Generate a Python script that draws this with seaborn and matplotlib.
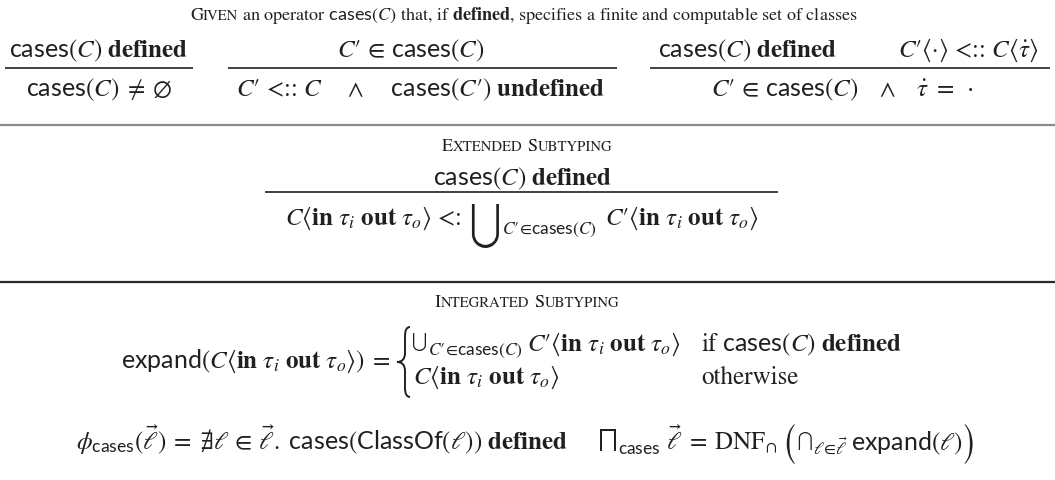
import matplotlib
matplotlib.use("Agg")
import matplotlib.pyplot as plt
import seaborn as sns
from matplotlib.textpath import TextPath
from matplotlib.patches import PathPatch
from matplotlib.path import Path
from matplotlib.font_manager import FontProperties
from matplotlib.transforms import Affine2D

# ---------------- content ----------------
title_parts = ["G", "IVEN",
               r"an operator $\mathsf{cases}(C)$ that, if $\mathbf{defined}$, specifies a finite and computable set of classes"]
rule1_premise = r"$\mathsf{cases}(C)\ \mathbf{defined}$"
rule1_concl = r"$\mathsf{cases}(C)\;\neq\;\emptyset$"
rule2_premise = r"$C′\,\in\,\mathsf{cases}(C)$"
rule2_concl = r"$C′$ <:: $C$$\quad\ \wedge\quad\ $$\mathsf{cases}(C′)\ \mathbf{undefined}$"
rule3_premises = [r"$\mathsf{cases}(C)\ \mathbf{defined}$",
                  r"$C′\langle$·$\rangle$ <:: $C\langle\dot{\tau}\rangle$"]
rule3_concl = r"$C′\,\in\,\mathsf{cases}(C)\quad\wedge\quad\dot{\tau}\ =\ \cdot$"
heading_ext = [("E", "XTENDED"), ("S", "UBTYPING")]
heading_int = [("I", "NTEGRATED"), ("S", "UBTYPING")]
ext_premise = r"$\mathsf{cases}(C)\ \mathbf{defined}$"
ext_left = r"$C\langle\mathbf{in}\ \tau_i\ \mathbf{out}\ \tau_o\rangle$ <:"
ext_sub = r"$C′\!\in\!\mathsf{cases}(C)$"
ext_right = r"$C′\langle\mathbf{in}\ \tau_i\ \mathbf{out}\ \tau_o\rangle$"
expand_lhs = r"$\mathsf{expand}(C\langle\mathbf{in}\ \tau_i\ \mathbf{out}\ \tau_o\rangle)\;=$"
case1_expr = r"$C′\langle\mathbf{in}\ \tau_i\ \mathbf{out}\ \tau_o\rangle$"
case1_cond = r"if $\mathsf{cases}(C)\ \mathbf{defined}$"
case2_expr = r"$C\langle\mathbf{in}\ \tau_i\ \mathbf{out}\ \tau_o\rangle$"
case2_cond = "otherwise"
phi_line = r"$\phi_{\mathsf{cases}}(\vec{\ell})\;=\;∄\ell\,\in\,\vec{\ell}.\ \mathsf{cases}(\mathsf{ClassOf}(\ell))\ \mathbf{defined}$"
meet_sub = r"$\mathsf{cases}$"
meet_mid = r"$\vec{\ell}\;=\;\mathrm{DNF}_{\cap}$"
meet_sub2 = r"$\ell\!\in\!\vec{\ell}$"
meet_expr = r"$\mathsf{expand}(\ell)$"

# ---------------- style ----------------
sns.set_theme(style="white")
plt.rcParams["font.family"] = ["STIXGeneral", "DejaVu Serif"]
plt.rcParams["mathtext.fontset"] = "custom"
plt.rcParams["mathtext.rm"] = "STIXGeneral"
plt.rcParams["mathtext.it"] = "STIXGeneral:italic"
plt.rcParams["mathtext.bf"] = "STIXGeneral:bold"
plt.rcParams["mathtext.sf"] = "Lato"
plt.rcParams["mathtext.fallback"] = "stix"
INK = "#231f20"
FS = 18.0
TS = 13.1
SC = 10.6
SUB = 12.5

fig = plt.figure(figsize=(10.55, 4.81), dpi=100)
ax = fig.add_axes([0, 0, 1, 1])
ax.set_xlim(0, 1055)
ax.set_ylim(481, 0)
ax.axis("off")
renderer = fig.canvas.get_renderer()


def glyph(ch, x0, x1, y0, y1):
    tp = TextPath((0, 0), ch, size=20, prop=FontProperties(family="STIXGeneral"))
    bb = tp.get_extents()
    sx = (x1 - x0) / bb.width
    sy = (y1 - y0) / bb.height
    tr = Affine2D().translate(-bb.x0, -bb.y1).scale(sx, -sy).translate(x0, y0) + ax.transData
    ax.add_patch(PathPatch(tp, transform=tr, fc=INK, lw=0))


def row(pieces, x, y, ha="center"):
    """pieces: ('t', text, size, dy, gap) or ('g', char, width, top, bottom, gap)"""
    items = []
    total = 0
    for p in pieces:
        if p[0] == "t":
            _, s, size, dy, gap = p
            t = ax.text(0, y + dy, s, fontsize=size, ha="left", va="baseline", color=INK)
            w = t.get_window_extent(renderer).width
            items.append(("t", t, w, dy, gap))
        else:
            _, ch, w, top, bot, gap = p
            items.append(("g", (ch, top, bot), w, 0, gap))
        total += w + gap
    if ha == "center":
        cx = x - total / 2
    elif ha == "right":
        cx = x - total
    else:
        cx = x
    x_start = cx
    for kind, obj, w, dy, gap in items:
        if kind == "t":
            obj.set_position((cx, y + dy))
        else:
            ch, top, bot = obj
            glyph(ch, cx, cx + w, y + top, y + bot)
        cx += w + gap
    return x_start, cx


def small_caps(parts, x, y):
    pieces = []
    for i, (a, b) in enumerate(parts):
        pieces.append(("t", a, TS, 0, 0))
        pieces.append(("t", b, SC, 0, 5 if i < len(parts) - 1 else 0))
    row(pieces, x, y)


def bar(x0, x1, y, lw=1.2, color=INK):
    ax.plot([x0, x1], [y, y], color=color, lw=lw, solid_capstyle="butt")


# ---------------- title ----------------
row([("t", title_parts[0], TS, 0, 0), ("t", title_parts[1], SC, 0, 4),
     ("t", title_parts[2], TS, 0, 0)], 524, 20)

# ---------------- rules ----------------
row([("t", rule1_premise, FS, 0, 0)], 99, 57)
bar(5, 193, 69)
row([("t", rule1_concl, FS, 0, 0)], 99, 96)

row([("t", rule2_premise, FS, 0, 0)], 411, 57)
bar(228, 617, 69)
row([("t", rule2_concl, FS, 0, 0)], 421, 96)

row([("t", rule3_premises[0], FS, 0, 0)], 748, 57)
row([("t", rule3_premises[1], FS, 0, 0)], 968, 57)
bar(650, 1050, 69)
row([("t", rule3_concl, FS, 0, 0)], 842, 96)

bar(0, 1055, 126, lw=1.6, color="#8a8a8a")

# ---------------- extended subtyping ----------------
small_caps(heading_ext, 527, 151)
row([("t", ext_premise, FS, 0, 0)], 523, 185)
bar(265, 778, 193)
row([("t", ext_left, FS, 0, 10),
     ("g", "\u22c3", 27, -20, 24, 3),
     ("t", ext_sub, SUB, 9, 8),
     ("t", ext_right, FS, 0, 0)], 522, 225)

bar(0, 1055, 283, lw=1.6, color="#2a2a2a")

# ---------------- integrated subtyping ----------------
small_caps(heading_int, 527, 307)
row([("t", expand_lhs, FS, 0, 0)], 391, 368, ha="right")

# brace
bx0, bx1, bt, bb_, bm = 397, 410, 328, 398, 363
r = 9
xm = (bx0 + bx1) / 2 + 1.5
verts = [(bx1, bt), (xm, bt), (xm, bt + r),
         (xm, bm - r), (xm, bm), (bx0, bm),
         (xm, bm), (xm, bm + r),
         (xm, bb_ - r), (xm, bb_), (bx1, bb_)]
codes = [Path.MOVETO, Path.CURVE3, Path.CURVE3,
         Path.LINETO, Path.CURVE3, Path.CURVE3,
         Path.CURVE3, Path.CURVE3,
         Path.LINETO, Path.CURVE3, Path.CURVE3]
ax.add_patch(PathPatch(Path(verts, codes), fc="none", ec=INK, lw=1.4))

_, e1 = row([("g", "\u22c3", 13, -17, 1, 2),
             ("t", ext_sub, SUB, 4, 4),
             ("t", case1_expr, FS, 0, 0)], 413, 351, ha="left")
_, e2 = row([("t", case2_expr, FS, 0, 0)], 413, 384, ha="left")
cond_x = max(e1, e2) + 20
row([("t", case1_cond, FS, 0, 0)], cond_x, 351, ha="left")
row([("t", case2_cond, FS, 0, 0)], cond_x, 384, ha="left")

# ---------------- bottom line ----------------
row([("t", phi_line, FS, 0, 0)], 76, 450, ha="left")
row([("g", "\u2a05", 16, -20, 2, 2),
     ("t", meet_sub, SUB, 4, 5),
     ("t", meet_mid, FS, 0, 10),
     ("g", "(", 8, -25, 15, 4),
     ("g", "\u22c2", 13, -17, 1, 1),
     ("t", meet_sub2, SUB, 4, 3),
     ("t", meet_expr, FS, 0, 2),
     ("g", ")", 8, -25, 15, 0)], 600, 450, ha="left")

fig.savefig("out.png", dpi=100, facecolor="white")
